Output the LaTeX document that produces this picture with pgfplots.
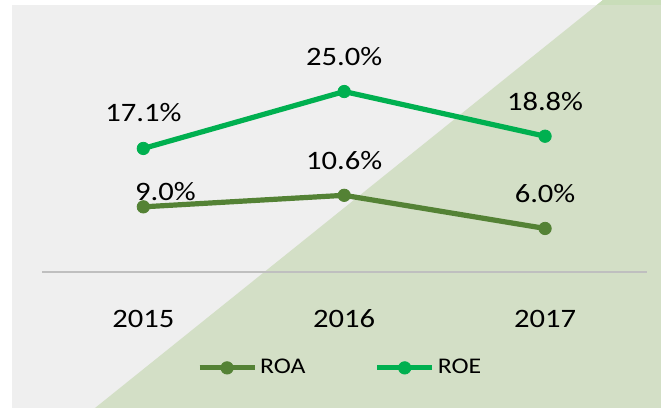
\documentclass[border=0pt]{standalone}
\usepackage{pgfplots}
\pgfplotsset{compat=1.18}
\usepackage{fontspec}
\setmainfont{Carlito}[FakeStretch=1.15]
\definecolor{bggray}{HTML}{EFEFEF}
\definecolor{bggreen}{HTML}{D3DFC6}
\definecolor{topgreen}{HTML}{C9DDB9}
\definecolor{roa}{HTML}{548235}
\definecolor{roe}{HTML}{00B050}
\definecolor{basegray}{HTML}{BFBFBF}
\begin{document}
\begin{tikzpicture}
\begin{scope}[x=0.5pt,y=0.5pt]
\useasboundingbox (0,0) rectangle (661,408);
\fill[white] (0,0) rectangle (661,408);
\fill[bggray] (12,0) rectangle (661,403);
\fill[bggreen] (95,0) -- (603,408) -- (661,408) -- (661,0) -- cycle;
\fill[topgreen] (597,403) -- (603,408) -- (661,408) -- (661,403) -- cycle;
\end{scope}
\begin{axis}[
  at={(21.45pt,68.15pt)}, anchor=south west,
  scale only axis, width=301.3pt, height=135.85pt,
  xmin=-0.5, xmax=2.5, ymin=0, ymax=37.7,
  axis line style={draw=none}, tick style={draw=none},
  ytick=\empty,
  xtick={0,1,2}, xticklabels={2015,2016,2017},
  xticklabel style={anchor=center, yshift=-23.65pt, font=\fontsize{13.3}{15}\selectfont},
  clip=false,
  legend columns=2,
  legend style={at={(0.494,-0.354)}, anchor=center, draw=none, fill=none,
    font=\fontsize{11.2}{13}\selectfont,
    nodes={inner xsep=1.5pt},
    /tikz/every even column/.append style={column sep=33pt}},
  legend image code/.code={\draw[mark repeat=2,mark phase=2,#1] plot coordinates {(0pt,0pt) (13.75pt,0pt) (27.5pt,0pt)};},
]
\draw[basegray, line width=1pt] (axis cs:-0.503,0) -- (axis cs:2.505,0);
\addplot[roa, line width=2.6pt, mark=*, mark size=3.1pt, mark options={solid, line width=0.4pt}] coordinates {(0,9.0) (1,10.6) (2,6.0)};
\addlegendentry{ROA}
\addplot[roe, line width=2.6pt, mark=*, mark size=3.1pt, mark options={solid, line width=0.4pt}] coordinates {(0,17.1) (1,25.0) (2,18.8)};
\addlegendentry{ROE}
\begin{scope}[every node/.style={font=\fontsize{13.3}{15}\selectfont, inner sep=0pt, anchor=center}]
\node[yshift=18.1pt] at (axis cs:0,17.1) {17.1\%};
\node[yshift=17.6pt] at (axis cs:1,25.0) {25.0\%};
\node[yshift=17.1pt] at (axis cs:2,18.8) {18.8\%};
\node[xshift=11pt, yshift=7.6pt] at (axis cs:0,9.0) {9.0\%};
\node[yshift=17.5pt] at (axis cs:1,10.6) {10.6\%};
\node[yshift=17.3pt] at (axis cs:2,6.0) {6.0\%};
\end{scope}
\end{axis}
\end{tikzpicture}
\end{document}
